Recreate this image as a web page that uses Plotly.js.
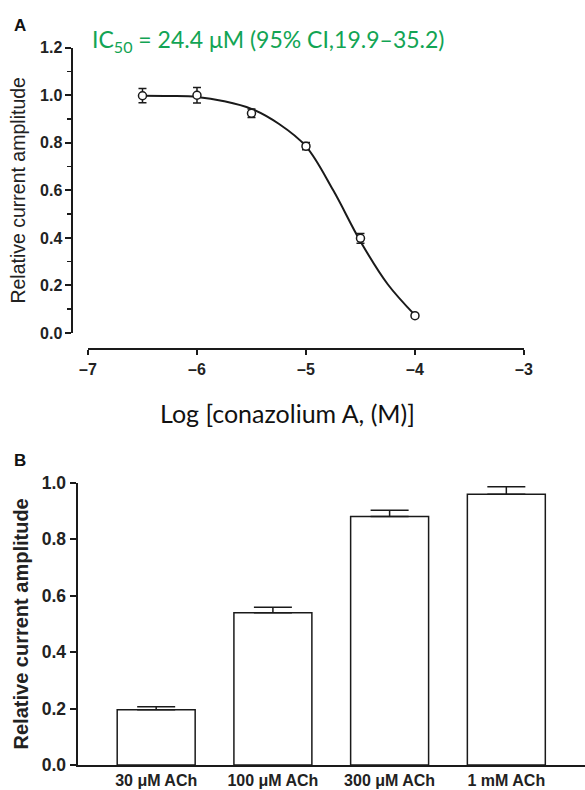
<!DOCTYPE html>
<html>
<head>
<meta charset="utf-8">
<script src="https://cdn.plot.ly/plotly-3.0.1.min.js"></script>
<style>html,body{margin:0;padding:0;background:#fff;}#chart{width:585px;height:790px;}</style>
</head>
<body>
<div id="chart"></div>
<script>
// ---- Panel A data ----
const logConc = [-6.5, -6, -5.5, -5, -4.5, -4];
const relAmpA = [0.998, 1.0, 0.924, 0.786, 0.398, 0.073];
const errA = [0.030, 0.033, 0.018, 0.015, 0.020, 0.008];
const fitX = [-6.5, -6.25, -6, -5.75, -5.5, -5.25, -5, -4.75, -4.5, -4.25, -4];
const fitY = [0.998, 0.997, 0.993, 0.975, 0.943, 0.88, 0.785, 0.60, 0.385, 0.205, 0.075];
const xTickValsA = [-7, -6, -5, -4, -3];
const xTickTextA = ['\u20137', '\u20136', '\u20135', '\u20134', '\u20133'];
// ---- Panel B data ----
const achCats = ['30 \u03bcM ACh', '100 \u03bcM ACh', '300 \u03bcM ACh', '1 mM ACh'];
const relAmpB = [0.196, 0.539, 0.880, 0.959];
const errB = [0.010, 0.020, 0.022, 0.027];

const sans = 'Liberation Sans, Arial, sans-serif';
const black = '#1a1a1a';
const tickFontA = {family: sans, size: 16, color: '#222', weight: 'bold'};

const traces = [
  {x: fitX, y: fitY, type: 'scatter', mode: 'lines', line: {color: black, width: 2, shape: 'spline'},
   xaxis: 'x', yaxis: 'y', hoverinfo: 'skip'},
  {x: logConc, y: relAmpA, type: 'scatter', mode: 'markers',
   marker: {symbol: 'circle', size: 8, color: '#fff', line: {color: black, width: 1.5}},
   error_y: {type: 'data', array: errA, visible: true, color: black, thickness: 1.5, width: 4},
   xaxis: 'x', yaxis: 'y'},
  {x: achCats, y: relAmpB, type: 'bar',
   marker: {color: '#fff', line: {color: black, width: 1.5}},
   error_y: {type: 'data', symmetric: false, array: errB, arrayminus: errB.map(() => 0), visible: true, color: black, thickness: 1.5, width: 19},
   xaxis: 'x2', yaxis: 'y2'}
];

const layout = {
  width: 585, height: 790,
  margin: {l: 0, r: 0, t: 0, b: 0},
  paper_bgcolor: '#fff', plot_bgcolor: 'rgba(0,0,0,0)',
  showlegend: false,
  bargap: 0.332,
  xaxis: {
    domain: [0.1504, 0.8957], range: [-7, -3], anchor: 'free', position: 0.5578,
    showline: true, linewidth: 2, linecolor: black, ticks: 'outside', ticklen: 5, tickwidth: 2, tickcolor: black,
    tickvals: xTickValsA, ticktext: xTickTextA, tickfont: tickFontA, showgrid: false, zeroline: false
  },
  yaxis: {
    domain: [0.5785, 0.9396], range: [0, 1.2], anchor: 'free', position: 0.1239,
    showline: true, linewidth: 2, linecolor: black, ticks: 'outside', ticklen: 6, tickwidth: 2, tickcolor: black,
    dtick: 0.2, tick0: 0, tickformat: '.1f', tickfont: tickFontA, showgrid: false, zeroline: false,
    minor: {ticks: 'outside', dtick: 0.1, ticklen: 4, tickwidth: 1.5, tickcolor: black, showgrid: false},
    title: {text: 'Relative current amplitude', font: {family: sans, size: 19.5, color: '#222'}, standoff: 8}
  },
  xaxis2: {
    domain: [0.1325, 1], range: [-0.674, 3.674], anchor: 'y2', type: 'category',
    showline: true, linewidth: 2, linecolor: black, ticks: '', tickfont: {family: sans, size: 16, color: '#222', weight: 'bold'},
    showgrid: false, zeroline: false
  },
  yaxis2: {
    domain: [0.0316, 0.389], range: [0, 1.0], anchor: 'x2',
    showline: true, linewidth: 2, linecolor: black, ticks: 'outside', ticklen: 6, tickwidth: 2, tickcolor: black,
    dtick: 0.2, tick0: 0, tickformat: '.1f', tickfont: {family: sans, size: 17.5, color: '#222', weight: 'bold'},
    showgrid: false, zeroline: false,
    title: {text: 'Relative current amplitude', font: {family: sans, size: 20, color: '#222', weight: 'bold'}, standoff: 8}
  },
  annotations: [
    {text: 'A', xref: 'paper', yref: 'paper', x: 12 / 585, y: 1 - 14 / 790, xanchor: 'left', yanchor: 'top', showarrow: false,
     font: {family: sans, size: 17, color: '#111', weight: 'bold'}},
    {text: 'B', xref: 'paper', yref: 'paper', x: 12 / 585, y: 1 - 449 / 790, xanchor: 'left', yanchor: 'top', showarrow: false,
     font: {family: sans, size: 17, color: '#111', weight: 'bold'}},
    {text: 'IC<sub>50</sub> = 24.4 \u03bcM (95% CI,19.9\u201335.2)', xref: 'paper', yref: 'paper', x: 90 / 585, y: 1 - 40 / 790,
     xanchor: 'left', yanchor: 'middle', showarrow: false,
     font: {family: 'Lato, Open Sans, sans-serif', size: 23, color: '#12a454'}},
    {text: 'Log [conazolium A, (M)]', xref: 'paper', yref: 'paper', x: 287 / 585, y: 1 - 413 / 790,
     xanchor: 'center', yanchor: 'middle', showarrow: false,
     font: {family: 'Lato, Open Sans, sans-serif', size: 25, color: '#111'}}
  ]
};

Plotly.newPlot('chart', traces, layout, {displayModeBar: false, staticPlot: true});
</script>
</body>
</html>
